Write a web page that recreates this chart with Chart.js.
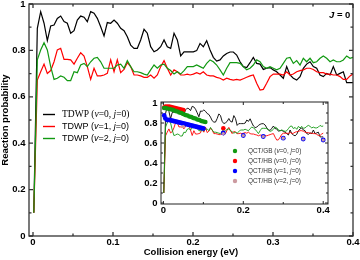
<!DOCTYPE html>
<html><head><meta charset="utf-8">
<script src="https://cdn.jsdelivr.net/npm/chart.js@4/dist/chart.umd.min.js"></script>
<style>
html,body{margin:0;padding:0;background:#fff;}
#wrap{position:relative;width:360px;height:260px;overflow:hidden;}
#main{position:absolute;left:0;top:0;width:360px;height:260px;}
#inset{position:absolute;left:138px;top:98px;width:194px;height:122px;}
</style></head><body>
<div id="wrap"><canvas id="main" width="360" height="260"></canvas><canvas id="inset" width="194" height="122"></canvas></div>
<script>
// ---------------- DATA ----------------
const energy = [0.001,
 0.0054,0.0096,0.0138,0.0179,0.0221,0.0263,0.0304,0.0346,0.0388,0.0429,
 0.0471,0.0513,0.0554,0.0596,0.0638,0.0679,0.0721,0.0763,0.0804,0.0846,
 0.0888,0.0929,0.0971,0.1013,0.1054,0.1096,0.1138,0.1179,0.1221,0.1263,
 0.1304,0.1346,0.1388,0.1429,0.1471,0.1513,0.1554,0.1596,0.1638,0.1679,
 0.1721,0.1763,0.1804,0.1846,0.1888,0.1929,
 0.1963,0.2004,0.2046,0.2088,0.2129,0.2171,0.2213,0.2254,0.2296,0.2338,
 0.2379,0.2421,0.2463,0.2504,0.2546,0.2588,0.2629,0.2671,0.2713,0.2754,
 0.2796,0.2838,0.2879,0.2921,0.2963,0.3004,0.3046,0.3088,0.3129,0.3171,
 0.3213,0.3254,0.3296,0.3338,0.3379,0.3421,0.3463,0.3504,0.3546,0.3588,
 0.3629,0.3671,0.3713,0.3754,0.3796,0.3838,0.3879,0.3921,0.3963,0.4];

const tdwpV0 = [0.10,
 0.895,0.967,0.917,0.842,0.905,0.909,0.938,0.948,0.924,0.917,
 0.874,0.885,0.931,0.948,0.943,0.924,0.967,0.960,0.938,0.902,
 0.862,0.920,0.917,0.931,0.917,0.895,0.885,0.859,0.823,0.809,
 0.809,0.845,0.891,0.874,0.816,0.794,0.802,0.816,0.845,0.816,
 0.809,0.874,0.845,0.776,0.794,0.794,
 0.794,0.794,0.799,0.830,0.816,0.842,0.802,0.770,0.754,0.759,
 0.776,0.787,0.793,0.793,0.780,0.751,0.730,0.726,0.747,0.770,
 0.744,0.741,0.718,0.723,0.726,0.716,0.708,0.694,0.680,0.730,
 0.694,0.680,0.672,0.687,0.723,0.741,0.751,0.730,0.723,0.694,
 0.687,0.701,0.694,0.730,0.694,0.701,0.708,0.661,0.661,0.661];

const tdwpV1 = [0.10,
 0.672,0.708,0.741,0.701,0.713,0.751,0.802,0.809,0.761,0.761,
 0.759,0.741,0.766,0.790,0.776,0.730,0.675,0.723,0.690,0.690,
 0.694,0.701,0.759,0.708,0.759,0.704,0.718,0.747,0.730,0.694,
 0.694,0.690,0.684,0.684,0.694,0.680,0.694,0.730,0.756,0.723,
 0.694,0.716,0.708,0.694,0.694,0.698,
 0.694,0.698,0.704,0.698,0.708,0.694,0.690,0.690,0.684,0.680,
 0.672,0.680,0.675,0.672,0.675,0.672,0.678,0.684,0.690,0.694,
 0.658,0.629,0.632,0.658,0.687,0.698,0.698,0.698,0.694,0.708,
 0.694,0.698,0.708,0.713,0.716,0.723,0.723,0.718,0.708,0.704,
 0.704,0.698,0.698,0.694,0.694,0.687,0.675,0.675,0.690,0.698];

const tdwpV2 = [0.10,
 0.759,0.802,0.833,0.802,0.730,0.675,0.680,0.690,0.684,0.670,
 0.670,0.708,0.704,0.737,0.744,0.730,0.751,0.766,0.770,0.751,
 0.723,0.723,0.723,0.723,0.737,0.741,0.723,0.756,0.730,0.708,
 0.708,0.704,0.698,0.694,0.716,0.737,0.723,0.737,0.741,0.723,
 0.713,0.698,0.708,0.698,0.713,0.730,
 0.730,0.730,0.737,0.730,0.723,0.744,0.759,0.751,0.737,0.716,
 0.694,0.723,0.747,0.747,0.747,0.744,0.730,0.716,0.723,0.737,
 0.759,0.751,0.730,0.723,0.730,0.723,0.716,0.723,0.744,0.766,
 0.770,0.744,0.756,0.737,0.766,0.751,0.766,0.747,0.751,0.766,
 0.776,0.766,0.751,0.759,0.751,0.751,0.759,0.776,0.766,0.770];

const qctGbV0Energy = [0.002,0.005,0.01,0.015,0.02,0.025,0.03,0.035,0.04,0.045,0.05,0.055,0.06,0.065,0.07,0.075,0.08,0.085,0.09,0.095,0.1,0.105];
const qctGbV0Prob   = [0.95,0.95,0.945,0.94,0.935,0.93,0.92,0.915,0.905,0.9,0.89,0.88,0.875,0.865,0.86,0.85,0.845,0.835,0.83,0.82,0.815,0.81];
const qctHbV0Energy = [0.002,0.005,0.01,0.015,0.02,0.025,0.03,0.035,0.04,0.045,0.05,0.15];
const qctHbV0Prob   = [0.955,0.965,0.965,0.965,0.96,0.955,0.95,0.945,0.94,0.935,0.93,0.748];
const qctHbV1Energy = [0.002,0.005,0.01,0.015,0.02,0.025,0.03,0.035,0.04,0.045,0.05,0.055,0.06,0.065,0.07,0.075,0.08,0.085,0.09,0.095,0.1,0.15,0.2,0.25,0.3,0.35,0.4];
const qctHbV1Prob   = [0.875,0.845,0.83,0.83,0.825,0.82,0.815,0.81,0.805,0.8,0.795,0.79,0.785,0.78,0.775,0.77,0.765,0.76,0.755,0.75,0.745,0.70,0.675,0.665,0.648,0.64,0.63];
const qctHbV2Energy = [0.05,0.15,0.2,0.25,0.3,0.35,0.4];
const qctHbV2Prob   = [0.763,0.695,0.675,0.665,0.648,0.64,0.63];

const tdwpLabels = ['TDWP (_v_=0, _j_=0)','TDWP (_v_=1, _j_=0)','TDWP (_v_=2, _j_=0)'];
const qctLabels  = ['QCT/GB (_v_=0, _j_=0)','QCT/HB (_v_=0, _j_=0)','QCT/HB (_v_=1, _j_=0)','QCT/HB (_v_=2, _j_=0)'];
const panelLabel = '_J_ = 0';

const mainXTicks = [0,0.1,0.2,0.3,0.4];
const mainXMinor = [0.05,0.15,0.25,0.35];
const mainYTicks = [0,0.2,0.4,0.6,0.8,1];
const mainYMinor = [0.1,0.3,0.5,0.7,0.9];
const insetXTicks = [0,0.2,0.4];
const insetXMinor = [0.1,0.3];
const insetYTicks = [0,0.2,0.4,0.6,0.8,1];
const insetYMinor = [0.1,0.3,0.5,0.7,0.9];

// ---------------- HELPERS ----------------
const SANS = "'Liberation Sans', Arial, sans-serif";
const SERIF = "'Liberation Serif', 'Times New Roman', serif";
Chart.defaults.font.family = SANS;
const C_BLACK = '#000000', C_RED = '#ff0000', C_GREEN = '#119911', C_BLUE = '#0000ff', C_PINK = '#cc9aa0';

function pts(xs, ys){ return xs.map((x,i)=>({x:x, y:ys[i]})); }

function drawRich(ctx, text, x, y, size, family, weight){
  const parts = text.split('_');
  let cx = x;
  parts.forEach((p,i)=>{
    if(!p) return;
    ctx.font = (i%2===1?'italic ':'') + (weight||'normal') + ' ' + size + 'px ' + family;
    ctx.fillText(p, cx, y);
    cx += ctx.measureText(p).width;
  });
}

const frameTicks = {
  id:'frameTicks',
  afterDatasetsDraw(chart, args, o){
    const {ctx, chartArea:a, scales:{x, y}} = chart;
    ctx.save();
    ctx.strokeStyle = o.color; ctx.lineWidth = o.width;
    ctx.beginPath();
    const xt = (vals, len) => vals.forEach(v=>{ const p = x.getPixelForValue(v);
      ctx.moveTo(p, a.bottom); ctx.lineTo(p, a.bottom-len); ctx.moveTo(p, a.top); ctx.lineTo(p, a.top+len); });
    const yt = (vals, len) => vals.forEach(v=>{ const p = y.getPixelForValue(v);
      ctx.moveTo(a.left, p); ctx.lineTo(a.left+len, p); ctx.moveTo(a.right, p); ctx.lineTo(a.right-len, p); });
    xt(o.xMajor, o.major); xt(o.xMinor, o.minor); yt(o.yMajor, o.major); yt(o.yMinor, o.minor);
    ctx.stroke();
    ctx.strokeRect(a.left, a.top, a.right-a.left, a.bottom-a.top);
    ctx.restore();
  }
};

const mainDecor = {
  id:'mainDecor',
  afterDraw(chart){
    const ctx = chart.ctx;
    ctx.save();
    ctx.textBaseline = 'middle'; ctx.fillStyle = '#000';
    const cols = [C_BLACK, C_RED, C_GREEN];
    const rows = [114.5, 126.5, 138.5];
    tdwpLabels.forEach((lab,i)=>{
      ctx.strokeStyle = cols[i]; ctx.lineWidth = 1.4;
      ctx.beginPath(); ctx.moveTo(43, rows[i]); ctx.lineTo(55, rows[i]); ctx.stroke();
      if(i===0) drawRich(ctx, lab, 62, rows[i], 9.5, SERIF);
      else drawRich(ctx, lab, 62, rows[i], 9, SANS);
    });
    drawRich(ctx, panelLabel, 329, 15, 9.5, SANS, 'bold');
    ctx.restore();
  }
};

const insetDecor = {
  id:'insetDecor',
  beforeDraw(chart){
    const {ctx, chartArea:a} = chart;
    ctx.save(); ctx.fillStyle = '#fff';
    ctx.fillRect(a.left, a.top, a.right-a.left, a.bottom-a.top);
    ctx.restore();
  },
  afterDraw(chart){
    const ctx = chart.ctx;
    ctx.save();
    ctx.textBaseline = 'middle'; ctx.fillStyle = '#000';
    const cols = [C_GREEN, C_RED, C_BLUE, C_PINK];
    const rows = [53, 63, 73, 83];
    qctLabels.forEach((lab,i)=>{
      ctx.fillStyle = cols[i];
      ctx.beginPath(); ctx.arc(97, rows[i], 2.2, 0, Math.PI*2); ctx.fill();
      ctx.fillStyle = '#333';
      drawRich(ctx, lab, 110, rows[i], 6.4, SANS);
    });
    ctx.restore();
  }
};

function axisX(min, max, ticks, h, fontSize, title){
  return { type:'linear', min:min, max:max,
    afterBuildTicks: s => { s.ticks = ticks.map(v=>({value:v})); },
    afterFit: s => { s.height = h; s.paddingLeft = 0; s.paddingRight = 0; },
    grid:{display:false, drawTicks:false}, border:{display:false},
    ticks:{ font:{size:fontSize, weight:'bold'}, color:'#000', padding:1, maxRotation:0, autoSkip:false, callback: v => String(v) },
    title: title ? { display:true, text:title, font:{size:9.5, weight:'bold'}, color:'#000', padding:{top:0, bottom:1.5} } : {display:false}
  };
}
function axisY(min, max, ticks, w, fontSize, title){
  return { type:'linear', min:min, max:max,
    afterBuildTicks: s => { s.ticks = ticks.map(v=>({value:v})); },
    afterFit: s => { s.width = w; s.paddingTop = 0; s.paddingBottom = 0; },
    grid:{display:false, drawTicks:false}, border:{display:false},
    ticks:{ font:{size:fontSize, weight:'bold'}, color:'#000', padding:3.5, autoSkip:false, callback: v => String(v) },
    title: title ? { display:true, text:title, font:{size:9.5, weight:'bold'}, color:'#000', padding:{top:0, bottom:0} } : {display:false}
  };
}

// ---------------- MAIN CHART ----------------
new Chart(document.getElementById('main'), {
  type:'scatter',
  data:{ datasets:[
    {label:'TDWP (v=0, j=0)', data:pts(energy,tdwpV0), showLine:true, borderColor:C_BLACK, borderWidth:1.2, pointRadius:0, order:2},
    {label:'TDWP (v=1, j=0)', data:pts(energy,tdwpV1), showLine:true, borderColor:C_RED, borderWidth:1.2, pointRadius:0, order:1},
    {label:'TDWP (v=2, j=0)', data:pts(energy,tdwpV2), showLine:true, borderColor:C_GREEN, borderWidth:1.2, pointRadius:0, order:0}
  ]},
  options:{
    responsive:false, animation:false, devicePixelRatio:1, events:[],
    layout:{ padding:{left:0, right:7, top:4, bottom:0} },
    plugins:{ legend:{display:false}, tooltip:{enabled:false},
      frameTicks:{ color:'#333', width:1.3, major:4, minor:2.5, xMajor:mainXTicks, xMinor:mainXMinor, yMajor:mainYTicks, yMinor:mainYMinor } },
    scales:{
      x: axisX(-0.005, 0.4, mainXTicks, 24, 9.5, 'Collision energy (eV)'),
      y: axisY(0, 1, mainYTicks, 29, 9.5, 'Reaction probability')
    }
  },
  plugins:[frameTicks, mainDecor]
});

// ---------------- INSET CHART ----------------
new Chart(document.getElementById('inset'), {
  type:'scatter',
  data:{ datasets:[
    {label:'TDWP (v=0, j=0)', data:pts(energy,tdwpV0), showLine:true, borderColor:C_BLACK, borderWidth:0.9, pointRadius:0, order:6},
    {label:'TDWP (v=1, j=0)', data:pts(energy,tdwpV1), showLine:true, borderColor:C_RED, borderWidth:0.9, pointRadius:0, order:5},
    {label:'TDWP (v=2, j=0)', data:pts(energy,tdwpV2), showLine:true, borderColor:C_GREEN, borderWidth:0.9, pointRadius:0, order:4},
    {label:'QCT/HB (v=0, j=0)', data:pts(qctHbV0Energy,qctHbV0Prob), pointRadius:2.3, pointBackgroundColor:C_RED, pointBorderWidth:0, order:3},
    {label:'QCT/GB (v=0, j=0)', data:pts(qctGbV0Energy,qctGbV0Prob), pointRadius:2.3, pointBackgroundColor:C_GREEN, pointBorderWidth:0, order:2},
    {label:'QCT/HB (v=1, j=0)', data:pts(qctHbV1Energy,qctHbV1Prob), pointRadius:2.4, pointBackgroundColor:C_BLUE, pointBorderWidth:0, order:1},
    {label:'QCT/HB (v=2, j=0)', data:pts(qctHbV2Energy,qctHbV2Prob), pointRadius:1.6, pointBackgroundColor:C_PINK, pointBorderWidth:0, order:0}
  ]},
  options:{
    responsive:false, animation:false, devicePixelRatio:1, events:[],
    layout:{ padding:{left:0, right:4, top:4, bottom:0} },
    plugins:{ legend:{display:false}, tooltip:{enabled:false},
      frameTicks:{ color:'#222', width:1, major:3, minor:2, xMajor:insetXTicks, xMinor:insetXMinor, yMajor:insetYTicks, yMinor:insetYMinor } },
    scales:{
      x: axisX(-0.006, 0.412, insetXTicks, 16, 9.5, null),
      y: axisY(-0.01, 1.01, insetYTicks, 23, 9.5, null)
    }
  },
  plugins:[insetDecor, frameTicks]
});
</script>
</body></html>
